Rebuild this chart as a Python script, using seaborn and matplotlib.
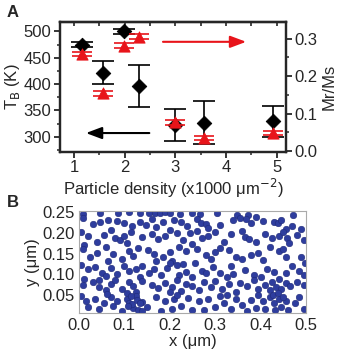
import numpy as np
import pandas as pd
import seaborn as sns
import matplotlib.pyplot as plt
from matplotlib.ticker import MultipleLocator

# --- panel A data ---
density = [1.15, 1.58, 1.98, 2.28, 3.0, 3.57, 4.92]
tb = [475, 422, 500, 397, 322, 327, 329]
tb_err = [5, 21, 4, 40, 30, 40, 30]
mrms = [0.259, 0.154, 0.282, 0.306, 0.076, 0.034, 0.048]
mrms_err = [0.006, 0.006, 0.006, 0.006, 0.006, 0.006, 0.006]

# --- panel B data (particle positions, um) ---
px = [0.008, 0.046, 0.087, 0.11, 0.134, 0.155, 0.167, 0.178, 0.19, 0.2, 0.222, 0.248, 0.267, 0.305, 0.348, 0.372, 0.39, 0.472,
      0.01, 0.03, 0.047, 0.065, 0.085, 0.1, 0.118, 0.135, 0.148, 0.16, 0.17, 0.185, 0.21, 0.225, 0.238, 0.26, 0.268, 0.28, 0.285, 0.31, 0.34, 0.355, 0.368, 0.38, 0.405, 0.43, 0.438, 0.445, 0.455, 0.47, 0.488,
      0.005, 0.02, 0.055, 0.07, 0.08, 0.09, 0.1, 0.105, 0.115, 0.14, 0.16, 0.175, 0.19, 0.2, 0.215, 0.23, 0.245, 0.26, 0.27, 0.285, 0.3, 0.32, 0.335, 0.36, 0.365, 0.375, 0.39, 0.41, 0.425, 0.44, 0.45, 0.458, 0.462, 0.48, 0.495, 0.04, 0.012, 0.25,
      0.01, 0.025, 0.04, 0.06, 0.075, 0.095, 0.11, 0.12, 0.13, 0.152, 0.165, 0.185, 0.2, 0.205, 0.22, 0.235, 0.26, 0.28, 0.29, 0.3, 0.31, 0.33, 0.345, 0.36, 0.38, 0.395, 0.405, 0.42, 0.44, 0.455, 0.45, 0.49, 0.498, 0.065, 0.17, 0.255,
      0.005, 0.02, 0.035, 0.05, 0.06, 0.07, 0.085, 0.1, 0.11, 0.125, 0.135, 0.14, 0.155, 0.165, 0.18, 0.195, 0.2, 0.215, 0.22, 0.235, 0.25, 0.27, 0.28, 0.295, 0.31, 0.325, 0.335, 0.34, 0.365, 0.385, 0.4, 0.415, 0.43, 0.44, 0.455, 0.47, 0.485, 0.495, 0.012, 0.045, 0.23,
      0.01, 0.03, 0.045, 0.06, 0.07, 0.08, 0.095, 0.11, 0.12, 0.125, 0.14, 0.16, 0.175, 0.19, 0.205, 0.215, 0.225, 0.235, 0.25, 0.265, 0.275, 0.29, 0.3, 0.315, 0.33, 0.345, 0.355, 0.37, 0.385, 0.395, 0.41, 0.42, 0.425, 0.435, 0.445, 0.455, 0.465, 0.48, 0.495, 0.105, 0.2,
      0.005, 0.015, 0.02, 0.035, 0.045, 0.055, 0.07, 0.075, 0.085, 0.095, 0.105, 0.11, 0.12, 0.125, 0.13, 0.14, 0.15, 0.17, 0.18, 0.19, 0.205, 0.21, 0.225, 0.24, 0.25, 0.265, 0.275, 0.285, 0.3, 0.31, 0.32, 0.335, 0.345, 0.36, 0.37, 0.38, 0.39, 0.405, 0.41, 0.42, 0.43, 0.44, 0.445, 0.455, 0.46, 0.475, 0.485, 0.495, 0.115, 0.14,
      0.118, 0.128, 0.108, 0.135, 0.428, 0.438, 0.45, 0.432, 0.062, 0.215, 0.325, 0.395]
py = [0.246, 0.248, 0.249, 0.25, 0.249, 0.249, 0.248, 0.249, 0.25, 0.249, 0.247, 0.248, 0.247, 0.248, 0.245, 0.245, 0.24, 0.245,
      0.236, 0.221, 0.226, 0.232, 0.229, 0.224, 0.216, 0.226, 0.219, 0.233, 0.214, 0.227, 0.231, 0.228, 0.216, 0.234, 0.225, 0.222, 0.212, 0.219, 0.231, 0.236, 0.233, 0.224, 0.229, 0.227, 0.225, 0.231, 0.211, 0.217, 0.209,
      0.203, 0.193, 0.196, 0.208, 0.187, 0.182, 0.192, 0.176, 0.203, 0.191, 0.198, 0.186, 0.193, 0.207, 0.201, 0.184, 0.199, 0.206, 0.188, 0.194, 0.203, 0.178, 0.197, 0.204, 0.191, 0.186, 0.179, 0.198, 0.189, 0.194, 0.202, 0.187, 0.177, 0.196, 0.183, 0.178, 0.171, 0.174,
      0.161, 0.143, 0.152, 0.166, 0.148, 0.138, 0.157, 0.144, 0.163, 0.158, 0.149, 0.141, 0.153, 0.133, 0.167, 0.156, 0.162, 0.146, 0.136, 0.154, 0.164, 0.159, 0.142, 0.137, 0.147, 0.151, 0.134, 0.166, 0.157, 0.143, 0.161, 0.141, 0.128, 0.133, 0.131, 0.127,
      0.123, 0.112, 0.118, 0.104, 0.096, 0.114, 0.101, 0.121, 0.107, 0.112, 0.093, 0.119, 0.102, 0.113, 0.098, 0.116, 0.127, 0.122, 0.099, 0.106, 0.094, 0.109, 0.102, 0.117, 0.104, 0.093, 0.119, 0.101, 0.111, 0.098, 0.094, 0.112, 0.106, 0.089, 0.102, 0.121, 0.108, 0.099, 0.088, 0.086, 0.126,
      0.074, 0.082, 0.069, 0.061, 0.077, 0.086, 0.064, 0.081, 0.071, 0.056, 0.084, 0.073, 0.066, 0.079, 0.068, 0.087, 0.059, 0.076, 0.071, 0.062, 0.081, 0.069, 0.083, 0.064, 0.076, 0.058, 0.079, 0.072, 0.086, 0.063, 0.074, 0.061, 0.082, 0.068, 0.063, 0.079, 0.071, 0.081, 0.073, 0.054, 0.057,
      0.046, 0.034, 0.021, 0.041, 0.016, 0.029, 0.044, 0.022, 0.036, 0.011, 0.039, 0.031, 0.019, 0.046, 0.012, 0.033, 0.021, 0.044, 0.011, 0.036, 0.016, 0.041, 0.024, 0.043, 0.014, 0.034, 0.012, 0.039, 0.021, 0.046, 0.029, 0.016, 0.041, 0.026, 0.011, 0.038, 0.019, 0.036, 0.016, 0.044, 0.031, 0.039, 0.021, 0.034, 0.012, 0.029, 0.044, 0.016, 0.046, 0.011,
      0.028, 0.038, 0.022, 0.03, 0.05, 0.055, 0.045, 0.012, 0.052, 0.05, 0.05, 0.05]

sns.set_style("ticks")
plt.rcParams['font.family'] = ['Liberation Sans', 'DejaVu Sans']
plt.rcParams['font.size'] = 12

fig = plt.figure(figsize=(3.4, 3.61), dpi=100)

# ---------- panel A ----------
ax = fig.add_axes([0.176, 0.579, 0.665, 0.36])
ax2 = ax.twinx()

dfa = pd.DataFrame({"density": density, "tb": tb, "mrms": mrms})

ax.errorbar(density, tb, yerr=tb_err, fmt="none", ecolor="black", elinewidth=1.2, capsize=8, capthick=1.2, zorder=3)
sns.scatterplot(data=dfa, x="density", y="tb", marker="D", s=55, color="black", edgecolor="black", ax=ax, zorder=4)

ax2.errorbar(density, mrms, yerr=mrms_err, fmt="none", ecolor="#e8141a", elinewidth=1.2, capsize=7, capthick=1.2, zorder=3)
sns.scatterplot(data=dfa, x="density", y="mrms", marker="^", s=65, color="#e8141a", edgecolor="#e8141a", ax=ax2, zorder=4)

ax.set_xlim(0.72, 5.18)
ax.set_ylim(271, 518)
ax2.set_ylim(-0.003, 0.345)

ax.annotate("", xy=(1.18, 307), xytext=(2.54, 307),
            arrowprops=dict(arrowstyle="-|>,head_length=0.8,head_width=0.3", color="black", lw=1.5))
ax2.annotate("", xy=(4.45, 0.292), xytext=(2.70, 0.292),
             arrowprops=dict(arrowstyle="-|>,head_length=0.8,head_width=0.3", color="#e8141a", lw=1.5))

ax.set_xticks([1, 2, 3, 4, 5])
ax.xaxis.set_minor_locator(MultipleLocator(0.5))
ax.set_yticks([300, 350, 400, 450, 500])
ax.yaxis.set_minor_locator(MultipleLocator(25))
ax2.set_yticks([0.0, 0.1, 0.2, 0.3])
ax2.yaxis.set_minor_locator(MultipleLocator(0.05))
ax.tick_params(axis="both", which="major", length=4, width=1.3, labelsize=12, pad=2)
ax.tick_params(axis="both", which="minor", length=2.5, width=1.1)
ax2.tick_params(axis="y", which="major", length=4, width=1.3, labelsize=12, pad=2)
ax2.tick_params(axis="y", which="minor", length=2.5, width=1.1)

# inward ticks along the top edge
top = ax.secondary_xaxis("top")
top.set_xticks([1, 2, 3, 4, 5])
top.xaxis.set_minor_locator(MultipleLocator(0.5))
top.tick_params(which="both", direction="in", length=3, width=1.2, labeltop=False)

ax.set_xlabel("Particle density (x1000 μm$^{-2}$)", fontsize=12, labelpad=1)
ax.set_ylabel("T$_\\mathrm{B}$ (K)", fontsize=12, labelpad=1)
ax2.set_ylabel("Mr/Ms", fontsize=12, labelpad=3)

for a in (ax, ax2):
    for sp in a.spines.values():
        sp.set_linewidth(1.6)
        sp.set_visible(True)
top.spines["top"].set_linewidth(1.6)

fig.text(0.02, 0.985, "A", fontsize=12, fontweight="bold", va="top")

# ---------- panel B ----------
axb = fig.add_axes([0.232, 0.132, 0.668, 0.284])
dfb = pd.DataFrame({"x": px, "y": py})
sns.scatterplot(data=dfb, x="x", y="y", s=22, color="#2e3d9e", edgecolor="#1f2a78", linewidth=0.4, ax=axb)
axb.set_xlim(0, 0.5)
axb.set_ylim(0.005, 0.254)
axb.set_xticks([0.0, 0.1, 0.2, 0.3, 0.4, 0.5])
axb.set_xticklabels(["0.0", "0.1", "0.2", "0.3", "0.4", "0.5"])
axb.set_yticks([0.05, 0.10, 0.15, 0.20, 0.25])
axb.set_yticklabels(["0.05", "0.10", "0.15", "0.20", "0.25"])
axb.tick_params(length=0, labelsize=12, pad=3)
axb.set_xlabel("x (μm)", fontsize=12, labelpad=1)
axb.set_ylabel("y (μm)", fontsize=12, labelpad=2)
for sp in axb.spines.values():
    sp.set_color("#aaaaaa")
    sp.set_linewidth(0.8)

fig.text(0.02, 0.46, "B", fontsize=12, fontweight="bold", va="top")

fig.savefig("out.png", dpi=100)
